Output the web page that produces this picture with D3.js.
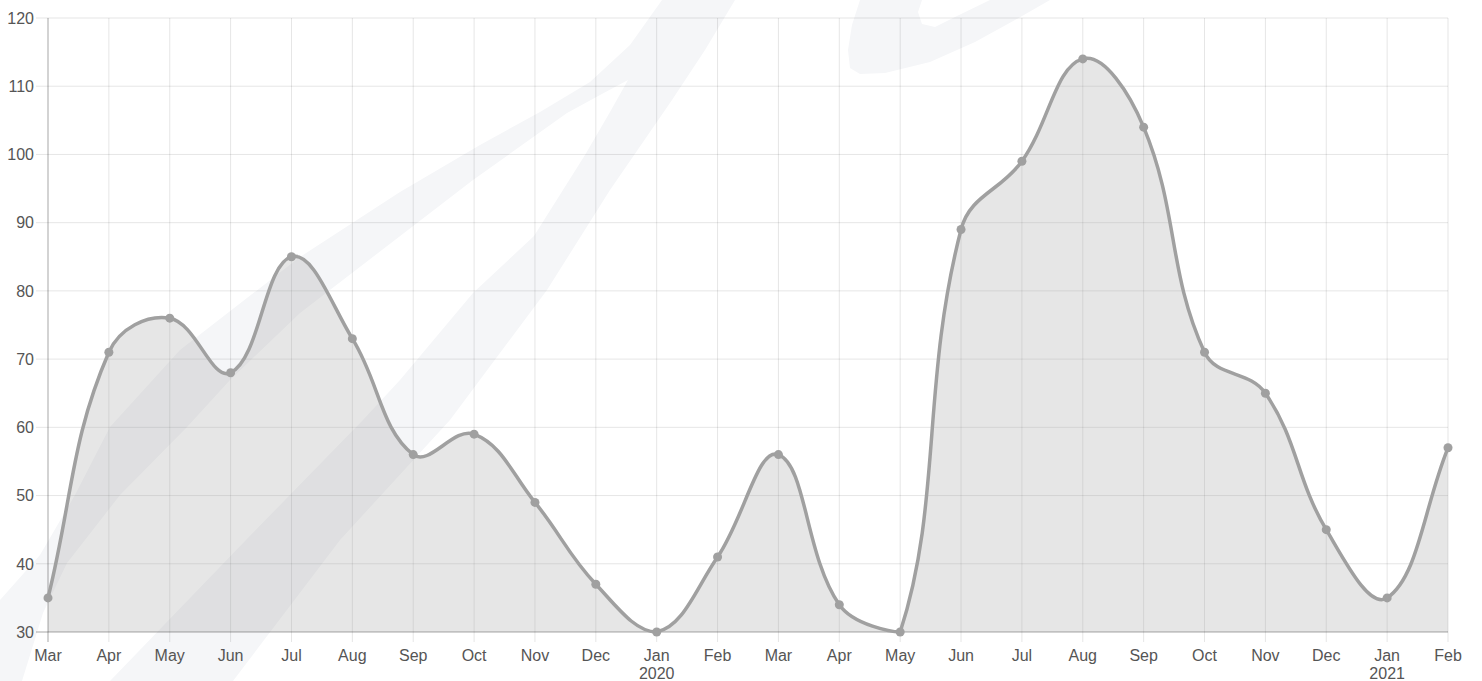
<!DOCTYPE html>
<html>
<head>
<meta charset="utf-8">
<script src="https://cdn.jsdelivr.net/npm/d3@7"></script>
<style>
  html, body { margin: 0; padding: 0; background: #fff; }
  svg { display: block; }
  text { font-family: "Liberation Sans", Arial, Helvetica, sans-serif; }
</style>
</head>
<body>
<svg id="chart" width="1482" height="681"></svg>
<script>
// ---- data ----
const months = ["Mar","Apr","May","Jun","Jul","Aug","Sep","Oct","Nov","Dec","Jan","Feb",
                "Mar","Apr","May","Jun","Jul","Aug","Sep","Oct","Nov","Dec","Jan","Feb"];
const yearLabels = ["","","","","","","","","","","2020","","","","","","","","","","","","2021",""];
const values = [35,71,76,68,85,73,56,59,49,37,30,41,56,34,30,89,99,114,104,71,65,45,35,57];
const yTicks = [30,40,50,60,70,80,90,100,110,120];

// ---- layout ----
const plotL = 48, plotR = 1448, plotT = 18, plotB = 632;
const svg = d3.select("#chart");

// ---- watermark (background decoration) ----
const wm = svg.append("g").attr("fill", "#f5f6f8");
const bandShape = [
  [0,600],[40,555],[75,495],[110,427],[180,350],[300,257],[400,192],[480,145],[540,112],[590,82],[630,45],[662,0],
  [735,0],[705,50],[672,100],[610,190],[547,290],[450,420],[340,540],[233,681],
  [110,681],[246,540],[363,420],[400,380],[473,293],[534,236],[585,155],[610,112],[628,80],
  [600,95],[567,113],[473,180],[300,313],[230,380],[187,427],[120,495],[67,563],[43,613],[22,681],[0,681]
];
wm.append("path").attr("d", d3.line().curve(d3.curveLinearClosed)(bandShape));
const hookShape = [
  [860,0],[852,25],[848,50],[850,68],[860,74],[885,73],[930,62],[975,42],[1015,20],[1050,0],
  [990,0],[955,17],[935,27],[922,24],[918,12],[922,0]
];
wm.append("path").attr("d", d3.line().curve(d3.curveLinearClosed)(hookShape));

// ---- scales ----
const x = d3.scalePoint().domain(d3.range(values.length)).range([plotL, plotR]);
const y = d3.scaleLinear().domain([30, 120]).range([plotB, plotT]);

// ---- grid ----
const grid = svg.append("g");
grid.selectAll("line.h").data(yTicks).join("line")
  .attr("x1", plotL - 12).attr("x2", plotR)
  .attr("y1", d => y(d)).attr("y2", d => y(d))
  .attr("stroke", "rgba(0,0,0,0.1)").attr("stroke-width", 1);
grid.selectAll("line.v").data(d3.range(values.length)).join("line")
  .attr("x1", d => x(d)).attr("x2", d => x(d))
  .attr("y1", plotT).attr("y2", plotB + 10)
  .attr("stroke", "rgba(0,0,0,0.1)").attr("stroke-width", 1);

// ---- Chart.js-like spline (tension 0.4) ----
const pts = values.map((v, i) => ({ x: x(i), y: y(v) }));
const tension = 0.4;
pts.forEach((p, i) => {
  const prev = i > 0 ? pts[i - 1] : p;
  const next = i < pts.length - 1 ? pts[i + 1] : p;
  const d01 = Math.hypot(p.x - prev.x, p.y - prev.y);
  const d12 = Math.hypot(next.x - p.x, next.y - p.y);
  let s01 = d01 / (d01 + d12), s12 = d12 / (d01 + d12);
  if (isNaN(s01)) s01 = 0; if (isNaN(s12)) s12 = 0;
  const fa = tension * s01, fb = tension * s12;
  p.cpPrev = { x: p.x - fa * (next.x - prev.x), y: p.y - fa * (next.y - prev.y) };
  p.cpNext = { x: p.x + fb * (next.x - prev.x), y: p.y + fb * (next.y - prev.y) };
  const cap = c => { c.x = Math.max(plotL, Math.min(plotR, c.x)); c.y = Math.max(plotT, Math.min(plotB, c.y)); };
  cap(p.cpPrev); cap(p.cpNext);
});
function splinePath(closeToBase) {
  const p = d3.path();
  p.moveTo(pts[0].x, pts[0].y);
  for (let i = 1; i < pts.length; i++) {
    const a = pts[i - 1], b = pts[i];
    p.bezierCurveTo(a.cpNext.x, a.cpNext.y, b.cpPrev.x, b.cpPrev.y, b.x, b.y);
  }
  if (closeToBase) {
    p.lineTo(pts[pts.length - 1].x, y(30));
    p.lineTo(pts[0].x, y(30));
    p.closePath();
  }
  return p.toString();
}

svg.append("path").attr("d", splinePath(true))
  .attr("fill", "rgba(165,165,165,0.28)").attr("stroke", "none");

// ---- axes lines ----
svg.append("line").attr("x1", plotL).attr("x2", plotL).attr("y1", plotT).attr("y2", plotB + 10)
  .attr("stroke", "rgba(0,0,0,0.25)").attr("stroke-width", 1);
svg.append("line").attr("x1", plotL - 12).attr("x2", plotR).attr("y1", plotB).attr("y2", plotB)
  .attr("stroke", "rgba(0,0,0,0.25)").attr("stroke-width", 1);

svg.append("path").attr("d", splinePath(false))
  .attr("fill", "none").attr("stroke", "#a0a0a0").attr("stroke-width", 3.5)
  .attr("stroke-linejoin", "round");

svg.append("g").selectAll("circle").data(pts).join("circle")
  .attr("cx", d => d.x).attr("cy", d => d.y).attr("r", 4.5)
  .attr("fill", "#a0a0a0");

// ---- tick labels ----
svg.append("g").selectAll("text").data(yTicks).join("text")
  .attr("x", 34).attr("y", d => y(d)).attr("dy", "0.36em")
  .attr("text-anchor", "end").attr("font-size", 16).attr("fill", "#555")
  .text(d => d);
svg.append("g").selectAll("text").data(months).join("text")
  .attr("x", (d, i) => x(i)).attr("y", 661)
  .attr("text-anchor", "middle").attr("font-size", 16).attr("fill", "#555")
  .text(d => d);
svg.append("g").selectAll("text").data(yearLabels).join("text")
  .attr("x", (d, i) => x(i)).attr("y", 679)
  .attr("text-anchor", "middle").attr("font-size", 16).attr("fill", "#555")
  .text(d => d);
</script>
</body>
</html>
